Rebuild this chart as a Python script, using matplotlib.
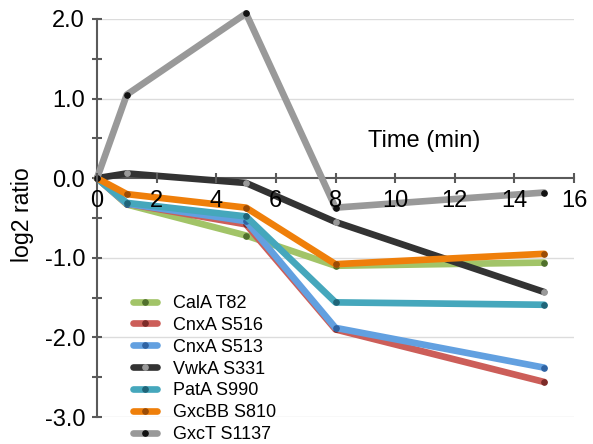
import matplotlib
matplotlib.use("Agg")
import matplotlib.pyplot as plt
from matplotlib.ticker import MultipleLocator

plt.rcParams['font.family'] = ['Liberation Sans', 'DejaVu Sans']

time = [0, 1, 5, 8, 15]
series_names = ["CalA T82", "CnxA S516", "CnxA S513", "VwkA S331",
                "PatA S990", "GxcBB S810", "GxcT S1137"]
cala = [0.0, -0.33, -0.72, -1.10, -1.06]
cnxa516 = [0.0, -0.32, -0.58, -1.90, -2.56]
cnxa513 = [0.0, -0.32, -0.54, -1.88, -2.38]
vwka = [0.0, 0.06, -0.06, -0.55, -1.43]
pata = [0.0, -0.31, -0.48, -1.56, -1.59]
gxcbb = [0.0, -0.20, -0.37, -1.08, -0.95]
gxct = [0.0, 1.05, 2.07, -0.37, -0.18]
values = [cala, cnxa516, cnxa513, vwka, pata, gxcbb, gxct]
ytick_vals = [-3, -2, -1, 0, 1, 2]
ytick_labels = ["-3.0", "-2.0", "-1.0", "0.0", "1.0", "2.0"]

line_colors = ["#a2c468", "#cc5e59", "#62a0e0", "#333333", "#45a7bc", "#ef7f0a", "#999999"]
marker_colors = ["#50702c", "#7c2b28", "#2f63a3", "#9a9a9a", "#1f6478", "#9b4c06", "#111111"]

W, H = 593, 444
fig = plt.figure(figsize=(W/100, H/100), dpi=100)
ax = fig.add_axes([97/W, 1-417/H, 477/W, 398/H])

for name, vals, lc, mc in zip(series_names, values, line_colors, marker_colors):
    ax.plot(time, vals, color=lc, lw=4.8, solid_capstyle='round', solid_joinstyle='round',
            marker='o', ms=3.8, mfc=mc, mec=mc, label=name, clip_on=False, zorder=3)

ax.set_xlim(0, 16)
ax.set_ylim(-3, 2)
for s in ['top', 'right']:
    ax.spines[s].set_visible(False)
ax.spines['left'].set_position(('data', 0))
ax.spines['bottom'].set_position(('data', 0))
for s in ['left', 'bottom']:
    ax.spines[s].set_color('#5a5a5a')
    ax.spines[s].set_linewidth(1.5)
    ax.spines[s].set_zorder(2.5)

ax.xaxis.set_major_locator(MultipleLocator(2))
ax.yaxis.set_minor_locator(MultipleLocator(0.5))
ax.set_yticks(ytick_vals)
ax.set_yticklabels(ytick_labels)
ax.tick_params(axis='both', which='both', direction='inout', color='#5a5a5a', width=1.5,
               labelsize=17, pad=5)
ax.tick_params(axis='both', which='major', length=7.2)
ax.tick_params(axis='y', which='minor', length=7.2)
ax.xaxis.set_zorder(4)
for yv in ytick_vals:
    if yv != 0:
        ax.plot([0, 16], [yv, yv], color='#dcdcdc', lw=1.0, zorder=0.5)

ax.text((424-97)/477*16, (179-142)/79.6, "Time (min)", fontsize=17, ha='center', va='center')
fig.text(22/W, 1-215/H, "log2 ratio", rotation=90, fontsize=16.7, ha='center', va='center')

leg = fig.legend(loc='center left', bbox_to_anchor=(133/W, 1-369/H), frameon=False,
                 fontsize=13, handlelength=1.35, handletextpad=0.85, labelspacing=0.27,
                 numpoints=1, borderaxespad=0, borderpad=0)

fig.savefig("out.png", dpi=100)
